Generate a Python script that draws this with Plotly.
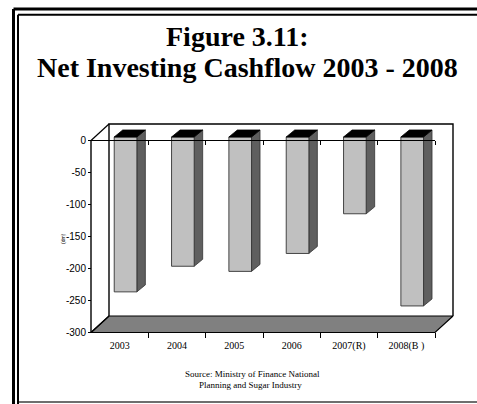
import plotly.graph_objects as go

# Net investing cashflow, $m (2007 revised, 2008 budget)
categories = ["2003", "2004", "2005", "2006", "2007(R)", "2008(B )"]
values = [-242, -202, -210, -182, -120, -264]
y_ticks = [0, -50, -100, -150, -200, -250, -300]
y_tick_text = ["0", "-50", "-100", "-150", "-200", "-250", "-300"]

# value axis limits and pseudo-3D geometry (in data units)
V_MIN, V_MAX = -300, 0
DEPTH_X, DEPTH_Y = 0.314, 25.8        # offset of the back wall
BAR_L, BAR_R = -0.095, 0.30           # front face of each column, relative to category
BAR_BASE = 5.5                        # columns sit slightly behind the front plane
SIDE_X, SIDE_Y = 0.148, 10.9          # column depth

X_RANGE = [-2.0872, 6.2326]
Y_RANGE = [-411.72, 219.53]

FACE = "#C0C0C0"
SIDE = "#5F5F5F"
TOP = "#000000"
FLOOR = "#808080"
SERIF = "Liberation Serif"
SANS = "Liberation Sans"


def px(xv):
    return (xv - X_RANGE[0]) / (X_RANGE[1] - X_RANGE[0])


def py(yv):
    return (yv - Y_RANGE[0]) / (Y_RANGE[1] - Y_RANGE[0])


fig = go.Figure()


def poly(xs, ys, fill, width=1.0, color="#000000"):
    fig.add_trace(go.Scatter(
        x=xs + [xs[0]], y=ys + [ys[0]], mode="lines", fill="toself",
        fillcolor=fill, line=dict(color=color, width=width),
        hoverinfo="skip", showlegend=False))


def seg(xs, ys, width=1.2):
    fig.add_trace(go.Scatter(
        x=xs, y=ys, mode="lines", line=dict(color="#000000", width=width),
        hoverinfo="skip", showlegend=False))


n = len(categories)
x0, x1 = -0.5, n - 0.5

# floor
poly([x0, x0 + DEPTH_X, x1 + DEPTH_X, x1],
     [V_MIN, V_MIN + DEPTH_Y, V_MIN + DEPTH_Y, V_MIN], FLOOR, 1.2)

# back wall outline
seg([x0 + DEPTH_X, x0 + DEPTH_X, x1 + DEPTH_X, x1 + DEPTH_X],
    [V_MIN + DEPTH_Y, V_MAX + DEPTH_Y, V_MAX + DEPTH_Y, V_MIN + DEPTH_Y], 1.4)

# columns
for i, v in enumerate(values):
    xl, xr = i + BAR_L, i + BAR_R
    yt, yb = BAR_BASE, BAR_BASE + v
    poly([xr, xr + SIDE_X, xr + SIDE_X, xr],
         [yt, yt + SIDE_Y, yb + SIDE_Y, yb], SIDE, 0.8, "#333333")
    poly([xl, xr, xr, xl], [yt, yt, yb, yb], FACE, 0.9, "#333333")
    poly([xl, xl + SIDE_X, xr + SIDE_X, xr],
         [yt, yt + SIDE_Y, yt + SIDE_Y, yt], TOP, 0.8, "#000000")

# front axes and the corner edges to the back wall
seg([x0, x1], [0, 0], 1.2)
seg([x0, x0], [V_MAX, V_MIN], 1.4)
seg([x0, x0 + DEPTH_X], [V_MAX, V_MAX + DEPTH_Y], 1.2)
seg([x0, x0 + DEPTH_X], [V_MIN, V_MIN + DEPTH_Y], 1.2)

# helper traces so the tick-only category axes get drawn
for ax in ("x2", "x3"):
    fig.add_trace(go.Scatter(x=[0], y=[0], xaxis=ax, yaxis="y", mode="markers",
                             marker=dict(size=1, opacity=0), hoverinfo="skip",
                             showlegend=False))

boundaries = [i - 0.5 for i in range(n + 1)]

fig.update_layout(
    width=477, height=404, autosize=False,
    margin=dict(l=0, r=0, t=0, b=0, pad=0),
    paper_bgcolor="white", plot_bgcolor="white",
    showlegend=False,
    xaxis=dict(range=X_RANGE, domain=[0, 1], anchor="free", position=py(V_MIN),
               tickmode="array", tickvals=list(range(n)), ticktext=categories,
               ticks="", showgrid=False, zeroline=False, showline=False,
               ticklabelstandoff=6,
               tickfont=dict(family=SERIF, size=10, color="#000000")),
    xaxis2=dict(range=X_RANGE, domain=[0, 1], overlaying="x", matches="x",
                anchor="free", position=py(V_MIN), tickmode="array",
                tickvals=boundaries[1:], ticks="outside", ticklen=5, tickwidth=1,
                tickcolor="#000000", showticklabels=False, showgrid=False,
                zeroline=False, showline=False),
    xaxis3=dict(range=X_RANGE, domain=[0, 1], overlaying="x", matches="x",
                anchor="free", position=py(0), tickmode="array",
                tickvals=boundaries[1:], ticks="outside", ticklen=4, tickwidth=1,
                tickcolor="#000000", showticklabels=False, showgrid=False,
                zeroline=False, showline=False),
    yaxis=dict(range=Y_RANGE, domain=[0, 1], anchor="free", position=px(x0),
               tickmode="array", tickvals=y_ticks, ticktext=y_tick_text,
               ticks="outside", ticklen=3,
               tickwidth=1, tickcolor="#000000", showgrid=False, zeroline=False,
               showline=False,
               tickfont=dict(family=SANS, size=10, color="#000000")),
)

# frame around the figure
frame = [
    (13.5, 9, 13.5, 404, 3), (13.5, 9, 477, 9, 3),
    (18, 14.7, 18, 404, 2), (18, 14.7, 477, 14.7, 2),
]
for xa, ya, xb, yb, w in frame:
    fig.add_shape(type="line", xref="paper", yref="paper",
                  x0=xa / 477, y0=1 - ya / 404, x1=xb / 477, y1=1 - yb / 404,
                  line=dict(color="#000000", width=w))
fig.add_shape(type="line", xref="paper", yref="paper",
              x0=19 / 477, y0=1 - 402 / 404, x1=1, y1=1 - 402 / 404,
              line=dict(color="#6E6E6E", width=2))

title_font = dict(family=SERIF, size=28, color="#000000")
fig.add_annotation(text="<b>Figure 3.11:</b>", xref="paper", yref="paper",
                   x=237 / 477, y=1 - 37 / 404, xanchor="center", yanchor="middle",
                   showarrow=False, font=title_font)
fig.add_annotation(text="<b>Net Investing Cashflow 2003 - 2008</b>", xref="paper",
                   yref="paper", x=248 / 477, y=1 - 67 / 404, xanchor="center",
                   yanchor="middle", showarrow=False, font=title_font)

fig.add_annotation(text="(dm)", xref="paper", yref="paper", x=58 / 477,
                   y=1 - 239 / 404, textangle=-90, showarrow=False,
                   font=dict(family=SANS, size=5, color="#000000"))

src_font = dict(family=SERIF, size=9, color="#000000")
fig.add_annotation(text="Source: Ministry of Finance National", xref="paper",
                   yref="paper", x=252 / 477, y=1 - 381 / 404, showarrow=False,
                   font=src_font)
fig.add_annotation(text="Planning and Sugar Industry", xref="paper", yref="paper",
                   x=250 / 477, y=1 - 392 / 404, showarrow=False, font=src_font)

fig.write_html("out.html")
